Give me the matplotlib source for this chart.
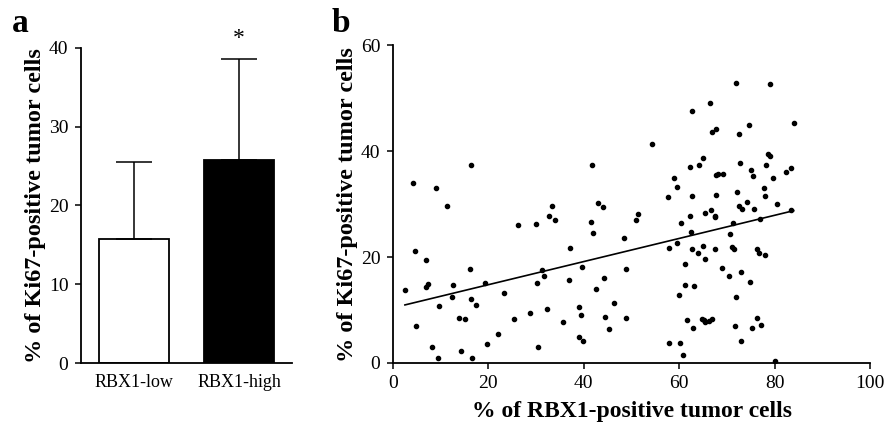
import numpy as np
import matplotlib
matplotlib.use("Agg")
from matplotlib import pyplot as plt

plt.rcParams['font.family'] = ['Liberation Serif', 'DejaVu Serif']

# panel a
groups = ["RBX1-low", "RBX1-high"]
means = [15.8, 25.8]
sds = [9.7, 12.8]

# panel b: % RBX1-positive vs % Ki67-positive
rbx1 = [2.5, 4.6, 4.9, 6.9, 6.9, 7.3, 8.2, 9.4, 9.6, 11.3, 12.5, 12.3, 13.9, 14.2,
        15.1, 16.1, 16.3, 16.5, 17.4, 19.2, 19.8, 22.1, 23.2, 25.3, 26.3, 28.8,
        29.9, 30.1, 30.4, 31.3, 31.7, 32.2, 32.8, 33.4, 33.9, 35.6, 36.8, 37.2,
        38.9, 38.9, 39.4, 39.7, 39.8, 41.6, 41.9, 42.6, 43.0, 44.0, 44.3, 44.4,
        45.2, 46.4,
        4.3, 9.0, 16.3, 41.7,
        72.0, 79.0, 66.4, 62.7, 84.0, 74.6, 67.8, 66.9, 72.5, 54.2, 64.9, 78.6,
        79.0, 62.3, 64.2, 72.7, 78.1, 75.0, 83.5, 82.3, 59.0, 67.8, 68.2, 69.2,
        75.5, 79.7, 59.6, 77.7, 57.6, 62.6, 67.8, 72.2, 78.0, 74.3, 80.4, 72.5,
        73.2, 66.7, 75.6, 83.5,
        51.0, 51.4, 48.5, 48.8, 48.8, 60.3, 62.2, 65.4, 67.4, 67.6, 77.0, 71.3,
        62.5, 70.6, 59.5, 57.9, 62.6, 64.0, 65.0, 65.4, 67.4, 71.1, 71.4, 76.3,
        76.7, 78.0, 61.2, 69.0, 70.4, 73.0, 74.8, 61.3, 63.2, 60.0, 72.0, 61.6,
        62.8, 64.8, 65.1, 65.4, 66.3, 66.9, 71.7, 76.4, 75.2, 77.1, 73.0, 57.9,
        60.2, 60.9, 80.1]
ki67 = [13.8, 21.1, 7.0, 19.4, 14.3, 15.0, 3.0, 0.9, 10.7, 29.6, 14.7, 12.5, 8.5, 2.2,
        8.4, 17.7, 12.1, 0.9, 11.0, 15.2, 3.5, 5.5, 13.3, 8.3, 26.0, 9.5,
        26.3, 15.2, 3.0, 17.5, 16.5, 10.2, 27.7, 29.7, 27.0, 7.7, 15.7, 21.7,
        10.6, 4.9, 9.0, 18.1, 4.2, 26.6, 24.5, 14.0, 30.2, 29.4, 16.1, 8.6,
        6.4, 11.3,
        34.1, 33.1, 37.4, 37.5,
        53.0, 52.8, 49.2, 47.7, 45.3, 44.9, 44.2, 43.6, 43.3, 41.4, 38.7, 39.4,
        39.2, 37.1, 37.4, 37.7, 37.4, 36.5, 36.8, 36.0, 35.0, 35.5, 35.7, 35.8,
        35.3, 34.9, 33.3, 33.1, 31.4, 31.5, 31.8, 32.3, 31.6, 30.4, 30.1, 29.6,
        29.1, 29.0, 29.1, 28.9,
        27.0, 28.1, 23.7, 17.7, 8.5, 26.5, 27.7, 28.3, 27.5, 27.8, 27.3, 26.4,
        24.8, 24.3, 22.7, 21.8, 21.5, 20.8, 22.1, 19.7, 21.6, 21.9, 21.6, 21.6,
        20.8, 20.4, 18.8, 17.9, 16.4, 17.2, 15.3, 14.8, 14.5, 12.8, 12.4, 8.2,
        6.7, 8.4, 8.1, 7.7, 7.9, 8.4, 7.0, 8.5, 6.7, 7.2, 4.1, 3.7,
        3.8, 1.6, 0.4]

x_ticks = [0, 20, 40, 60, 80, 100]
y_ticks = [0, 20, 40, 60]

fig = plt.figure(figsize=(8.96, 4.25), dpi=100)

# ---- panel a ----
ax1 = fig.add_axes([0.0904, 0.1452, 0.2355, 0.7426])
pos = np.arange(len(groups))
ax1.bar(pos, means, width=0.66, color=["white", "black"], edgecolor="black",
        linewidth=1.3)
ax1.errorbar(pos, means, yerr=[[0, 0], sds], fmt="none", ecolor="black",
             elinewidth=1.1, capsize=13, capthick=1.1)
ax1.text(pos[1], means[1] + sds[1] + 1.2, "*", ha="center", va="bottom", fontsize=17)
ax1.set_xlim(-0.5, 1.5)
ax1.set_ylim(0, 40)
ax1.set_yticks([0, 10, 20, 30, 40])
ax1.set_xticks(pos)
ax1.set_xticklabels(groups, fontsize=13)
ax1.tick_params(axis="x", length=0, pad=8)
ax1.tick_params(axis="y", length=4, width=1.1, labelsize=14, pad=5)
ax1.set_ylabel("% of Ki67-positive tumor cells", fontsize=17.5, fontweight="bold",
               labelpad=2)
for s in ["top", "right"]:
    ax1.spines[s].set_visible(False)
ax1.spines["left"].set_linewidth(1.3)
ax1.spines["bottom"].set_linewidth(1.3)
fig.text(0.013, 0.925, "a", fontsize=24, fontweight="bold")

# ---- panel b ----
ax2 = fig.add_axes([0.4386, 0.1459, 0.5324, 0.7471])
ax2.scatter(rbx1, ki67, s=9, color="black", zorder=3)
slope, intercept = np.polyfit(rbx1, ki67, 1)
xs = np.array([min(rbx1), max(rbx1)])
ax2.plot(xs, intercept + slope * xs, color="black", linewidth=1.2)
ax2.set_xlim(0, 100)
ax2.set_ylim(0, 60)
ax2.set_xticks(x_ticks)
ax2.set_yticks(y_ticks)
ax2.tick_params(length=4, width=1.1, labelsize=14, pad=5)
ax2.set_xlabel("% of RBX1-positive tumor cells", fontsize=17, fontweight="bold",
               labelpad=6)
ax2.set_ylabel("% of Ki67-positive tumor cells", fontsize=17.5, fontweight="bold",
               labelpad=2)
for s in ["top", "right"]:
    ax2.spines[s].set_visible(False)
ax2.spines["left"].set_linewidth(1.3)
ax2.spines["bottom"].set_linewidth(1.3)
fig.text(0.37, 0.925, "b", fontsize=24, fontweight="bold")

fig.savefig("out.png", dpi=100)
